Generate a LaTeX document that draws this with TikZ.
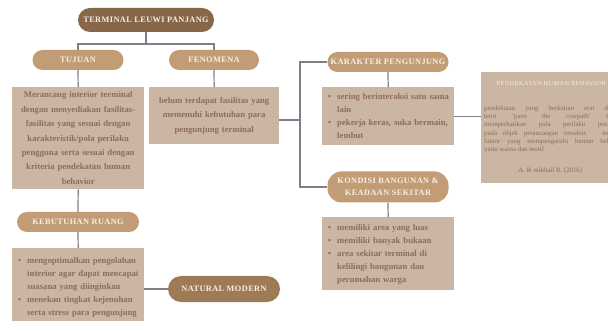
\documentclass[tikz,border=0pt]{standalone}
\usepackage{fontspec}
\setmainfont{Liberation Serif}
\newfontfamily\pillfont[LetterSpace=5]{Liberation Serif}
\newfontfamily\notefont[LetterSpace=8]{Liberation Serif}
\usetikzlibrary{positioning}

\definecolor{pilldark}{HTML}{876749}
\definecolor{pillmid}{HTML}{9F7A57}
\definecolor{pilllight}{HTML}{C19C75}
\definecolor{pilltext}{HTML}{F8EFE3}
\definecolor{boxfill}{HTML}{CBB5A3}
\definecolor{boxtext}{HTML}{8D6E59}
\definecolor{wireclr}{HTML}{7C8088}

\tikzset{
  pill/.style={fill=pilllight, text=pilltext, rounded corners=10pt, inner sep=0pt,
    align=center, font=\pillfont\bfseries\fontsize{8.3}{12.5}\selectfont},
  darkpill/.style={pill, fill=pilldark},
  midpill/.style={pill, fill=pillmid},
  textbox/.style={fill=boxfill, text=boxtext, inner xsep=6pt, inner ysep=0pt, anchor=north west,
    font=\bfseries\fontsize{8.7}{14.4}\selectfont},
  listbox/.style={textbox, align=left, font=\bfseries\fontsize{8.7}{13}\selectfont},
  wire/.style={draw=wireclr, line width=1.2pt},
}

\begin{document}
\begin{tikzpicture}[x=1pt,y=-1pt]
\clip (0,0) rectangle (608,331);
\fill[white] (0,0) rectangle (608,331);

% headings
\node[darkpill, minimum width=136pt, minimum height=24pt, rounded corners=12pt] (terminal) at (146,20) {TERMINAL LEUWI PANJANG};
\node[pill, minimum width=91pt, minimum height=20pt] (tujuan) at (78,60) {TUJUAN};
\node[pill, minimum width=90pt, minimum height=20pt] (fenomena) at (214,60) {FENOMENA};
\node[pill, minimum width=121pt, minimum height=20pt] (karakter) at (388,62) {KARAKTER PENGUNJUNG};
\node[pill, minimum width=121pt, minimum height=31pt, rounded corners=14pt] (kondisi) at (388,187) {KONDISI BANGUNAN \&\\KEADAAN SEKITAR};
\node[pill, minimum width=122pt, minimum height=20pt] (kebutuhan) at (78,222) {KEBUTUHAN RUANG};
\node[midpill, minimum width=112pt, minimum height=26pt, rounded corners=13pt] (natural) at (224,289) {NATURAL MODERN};

% boxes
\node[textbox, minimum width=132pt, minimum height=102pt, text width=120pt, align=center] (tujuanbox) at (12,87)
  {Merancang interior terminal\\dengan menyediakan fasilitas-\\fasilitas yang sesuai dengan\\karakteristik/pola perilaku\\pengguna serta sesuai dengan\\kriteria pendekatan human\\behavior};
\node[textbox, minimum width=130pt, minimum height=57pt, text width=118pt, align=center] (fenomenabox) at (149,87)
  {belum terdapat fasilitas yang\\memenuhi kebutuhan para\\pengunjung terminal};
\node[listbox, minimum width=132pt, minimum height=58pt, text width=120pt] (karakterbox) at (322,87)
  {\begin{tabular}{@{}l@{\hspace{6pt}}l@{}}
   \textbullet & sering berinteraksi satu sama\\ & lain\\
   \textbullet & pekerja keras, suka bermain,\\ & lembut
   \end{tabular}};
\node[listbox, minimum width=132pt, minimum height=73pt, text width=120pt] (kondisibox) at (322,217)
  {\begin{tabular}{@{}l@{\hspace{6pt}}l@{}}
   \textbullet & memiliki area yang luas\\
   \textbullet & memiliki banyak bukaan\\
   \textbullet & area sekitar terminal di\\ & kelilingi bangunan dan\\ & perumahan warga
   \end{tabular}};
\node[listbox, minimum width=132pt, text width=120pt, inner ysep=6pt, text depth=26pt] (kebutuhanbox) at (12,248)
  {\begin{tabular}{@{}l@{\hspace{6pt}}l@{}}
   \textbullet & mengoptimalkan pengolahan\\ & interior agar dapat mencapai\\ & suasana yang diinginkan\\
   \textbullet & menekan tingkat kejenuhan\\ & serta stress para pengunjung
   \end{tabular}};
\node[textbox, minimum width=146pt, minimum height=111pt, text width=140pt, inner xsep=3pt, align=justify,
  font=\fontsize{6.8}{8.2}\selectfont] (behavior) at (481,72)
  {{\centering\color{pilltext}\notefont\fontsize{6.2}{7}\selectfont PENDEKATAN HUMAN BEHAVIOR\hspace*{6pt}\par}
   \vspace{17pt}
   pendekatan yang berkaitan erat dengan\linebreak
   teori `pave the cowpath' karena\linebreak
   memperhatikan pola perilaku pengguna\linebreak
   pada objek perancangan tersebut. terdapat\linebreak
   faktor yang mempengaruhi human behavior\linebreak
   yaitu warna dan motif\par
   \vspace{13pt}
   {\centering A. \& mikhail R. (2016)\hspace*{8pt}\par}};

% connectors
\coordinate (tsplit) at (146,44);
\coordinate (hub) at (300,120);
\draw[wire] (terminal.south) -- (tsplit);
\draw[wire] (tujuan.north) |- (tsplit) -| (fenomena.north);
\draw[wire] (tujuan.south) -- (tujuanbox.north);
\draw[wire] (fenomena.south) -- (fenomenabox.north);
\draw[wire] (fenomenabox.east |- hub) -- (hub);
\draw[wire] (karakter.west) -| (hub) |- (kondisi.west);
\draw[wire] (karakter.south) -- (karakterbox.north);
\draw[wire] (karakterbox.east) -- (karakterbox.east -| behavior.west);
\draw[wire] (kondisi.south) -- (kondisibox.north);
\draw[wire] (tujuanbox.south) -- (kebutuhan.north);
\draw[wire] (kebutuhan.south) -- (kebutuhanbox.north);
\draw[wire] (natural.west) -- (natural.west -| kebutuhanbox.east);
\end{tikzpicture}
\end{document}
